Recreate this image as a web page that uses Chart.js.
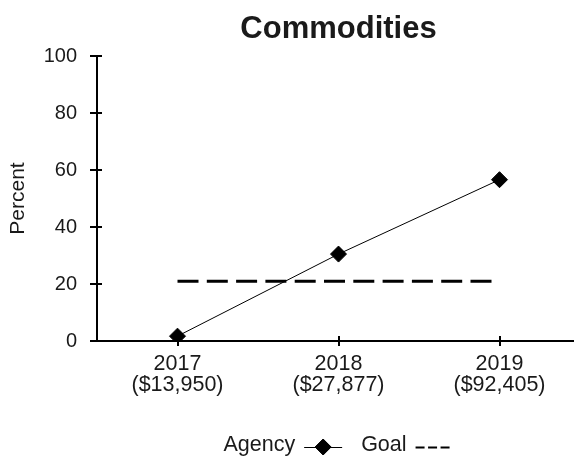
<!DOCTYPE html>
<html>
<head>
<meta charset="utf-8">
<title>Commodities</title>
<script src="https://cdn.jsdelivr.net/npm/chart.js@4.4.1/dist/chart.umd.min.js"></script>
<style>
    html, body { margin: 0; padding: 0; background: #fff; overflow: hidden; }
    #wrap { width: 580px; height: 460px; }
</style>
</head>
<body>
<div id="wrap"><canvas id="commoditiesChart" width="580" height="460"></canvas></div>
<script>
// Chart data
const years = ['2017', '2018', '2019'];
const amounts = ['($13,950)', '($27,877)', '($92,405)'];
const agencyValues = [1.7, 30.5, 56.6];
const goalValues = [21, 21, 21];
const yTickValues = [0, 20, 40, 60, 80, 100];

const FONT = '"Liberation Sans", Arial, Helvetica, sans-serif';
const INK = '#1a1a1a';

// Ticks that cross the axis lines
const crossTicks = {
    id: 'crossTicks',
    beforeDatasetsDraw(chart) {
        const { ctx, scales: { x, y } } = chart;
        ctx.save();
        ctx.strokeStyle = '#000';
        ctx.lineWidth = 2;
        ctx.beginPath();
        y.ticks.forEach(t => {
            const py = Math.round(y.getPixelForValue(t.value));
            ctx.moveTo(x.left - 7, py);
            ctx.lineTo(x.left + 5, py);
        });
        x.ticks.forEach((t, i) => {
            const px = Math.round(x.getPixelForTick(i));
            ctx.moveTo(px, y.bottom - 5);
            ctx.lineTo(px, y.bottom + 5);
        });
        ctx.stroke();
        ctx.restore();
    }
};

// Legend with the label written before its symbol
const textFirstLegend = {
    id: 'textFirstLegend',
    afterDraw(chart) {
        const { ctx, chartArea } = chart;
        const sets = chart.data.datasets;
        const gapText = 9, gapItem = 19;
        ctx.save();
        ctx.font = '21.5px ' + FONT;
        ctx.textBaseline = 'middle';
        const widths = sets.map(d => ctx.measureText(d.label).width + gapText + d.legendWidth);
        const total = widths.reduce((a, b) => a + b, 0) + gapItem * (sets.length - 1);
        let x = (chartArea.left + chartArea.right) / 2 - total / 2 - 2;
        const yc = 445.5;
        sets.forEach((d, i) => {
            ctx.fillStyle = INK;
            ctx.fillText(d.label, x, yc);
            const sx = x + ctx.measureText(d.label).width + gapText;
            ctx.strokeStyle = '#000';
            if (d.legendDash) {
                ctx.lineWidth = 2;
                ctx.setLineDash(d.legendDash);
            } else {
                ctx.lineWidth = 1;
                ctx.setLineDash([]);
            }
            ctx.beginPath();
            ctx.moveTo(sx, yc + 2);
            ctx.lineTo(sx + d.legendWidth, yc + 2);
            ctx.stroke();
            ctx.setLineDash([]);
            if (d.pointRadius > 0) {
                Chart.helpers.drawPoint(ctx, {
                    pointStyle: d.pointStyle,
                    radius: d.pointRadius,
                    borderWidth: 1
                }, sx + d.legendWidth / 2, yc + 1.5);
                ctx.fillStyle = '#000';
                ctx.fill();
            }
            x += widths[i] + gapItem;
        });
        ctx.restore();
    }
};

const ctx = document.getElementById('commoditiesChart').getContext('2d');
const commoditiesChart = new Chart(ctx, {
    type: 'line',
    data: {
        labels: years.map((y, i) => [y, amounts[i]]),
        datasets: [{
            label: 'Agency',
            data: agencyValues,
            borderColor: '#000',
            borderWidth: 1,
            backgroundColor: '#000',
            pointStyle: 'rectRot',
            pointRadius: 8,
            pointBorderWidth: 1,
            pointBackgroundColor: '#000',
            pointBorderColor: '#000',
            legendWidth: 38
        }, {
            label: 'Goal',
            data: goalValues,
            borderColor: '#000',
            borderWidth: 3,
            borderDash: [21, 8.3],
            pointRadius: 0,
            legendDash: [9, 3.5],
            legendWidth: 34
        }]
    },
    options: {
        responsive: false,
        animation: false,
        layout: { autoPadding: false, padding: { bottom: 59, right: 0, left: 0 } },
        plugins: {
            legend: { display: false },
            tooltip: { enabled: false },
            title: {
                display: true,
                text: 'Commodities',
                fullSize: false,
                color: INK,
                font: { family: FONT, size: 31, weight: 'bold' },
                padding: { top: 10.5, bottom: 8.3 }
            }
        },
        scales: {
            x: {
                offset: true,
                afterFit(scale) {
                    scale.height = 60;
                },
                grid: { display: false, drawTicks: false },
                border: { display: true, color: '#000', width: 2 },
                ticks: {
                    color: INK,
                    padding: 13,
                    maxRotation: 0,
                    font: { family: FONT, size: 21.5, lineHeight: 0.95 }
                }
            },
            y: {
                min: 0,
                max: 100,
                afterBuildTicks(scale) {
                    scale.ticks = yTickValues.map(v => ({ value: v }));
                },
                afterFit(scale) {
                    scale.width = 97;
                },
                grid: { display: false, drawTicks: false },
                border: { display: true, color: '#000', width: 2 },
                ticks: {
                    color: INK,
                    padding: 20,
                    font: { family: FONT, size: 20 }
                },
                title: {
                    display: true,
                    text: 'Percent',
                    color: INK,
                    padding: { top: 6, bottom: 0 },
                    font: { family: FONT, size: 21 }
                }
            }
        }
    },
    plugins: [crossTicks, textFirstLegend]
});
</script>
</body>
</html>
